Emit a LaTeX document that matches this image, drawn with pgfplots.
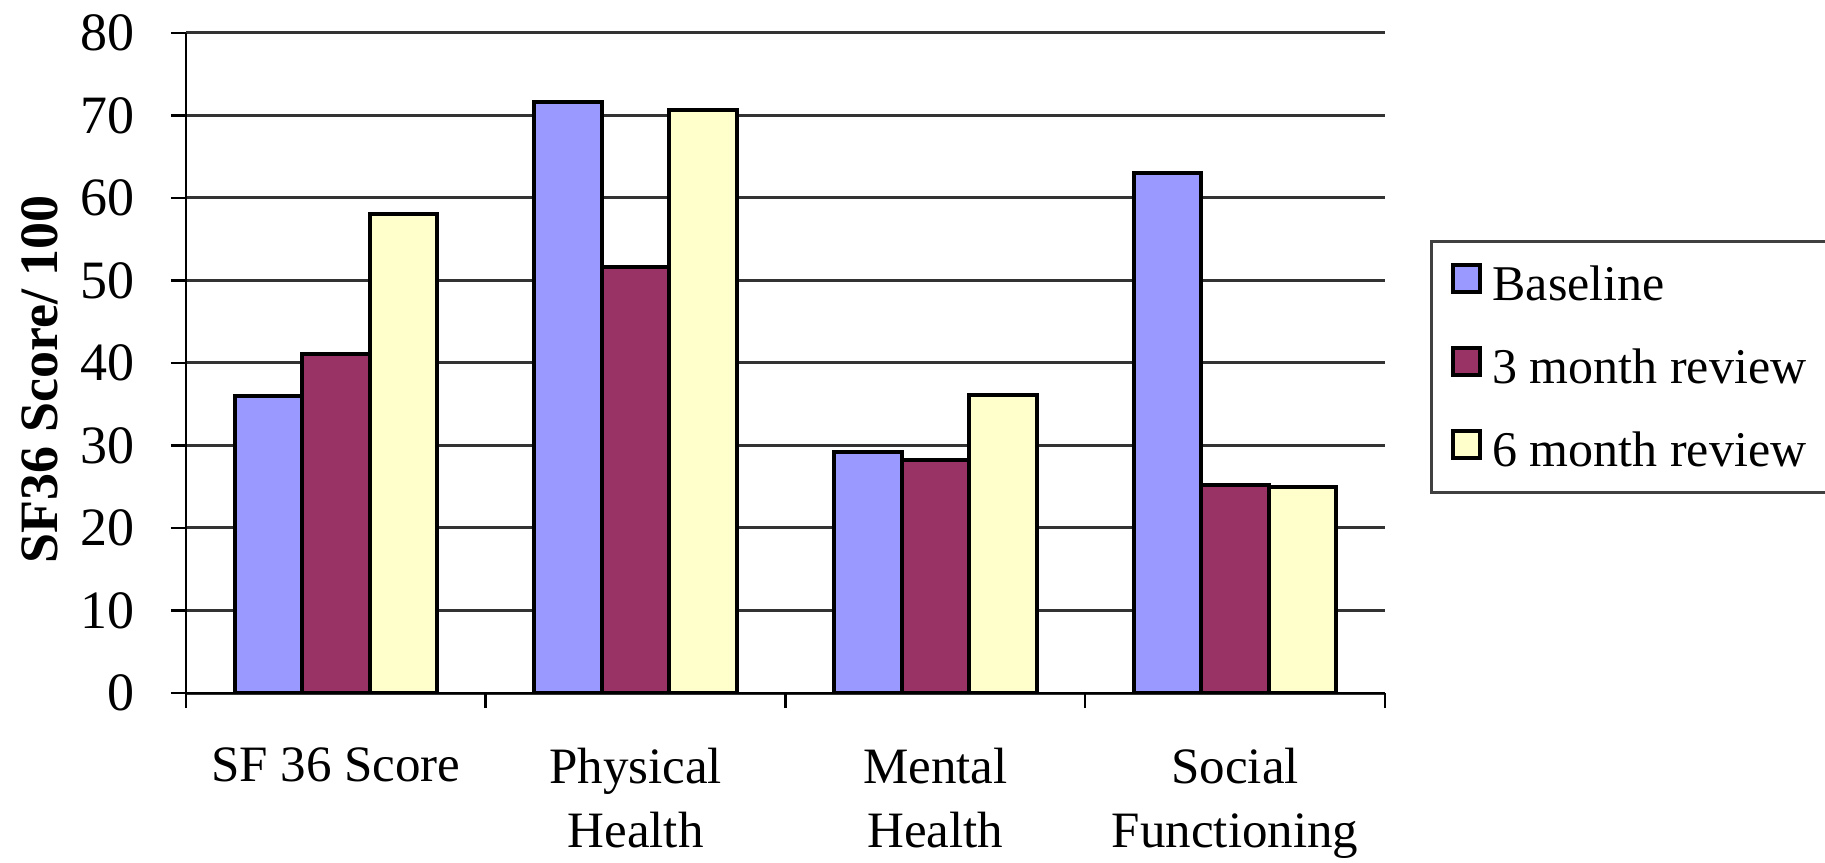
\documentclass[border=0pt]{standalone}
\usepackage{fontspec}
\setmainfont{Liberation Serif}
\usepackage{pgfplots}
\pgfplotsset{compat=1.18}

\definecolor{baseline}{HTML}{9999FF}
\definecolor{month3}{HTML}{993366}
\definecolor{month6}{HTML}{FFFFCC}

\begin{document}
\begin{tikzpicture}
\path[use as bounding box] (0,0) rectangle (1825pt,862pt);
\begin{axis}[
  at={(186pt,169pt)}, anchor=south west,
  width=1199pt, height=660pt, scale only axis,
  ybar=0pt, bar width=0.225,
  xmin=-0.5, xmax=3.5, ymin=0, ymax=80,
  axis lines=left,
  x axis line style={-, line width=2.5pt},
  y axis line style={-, line width=2.5pt},
  tick align=outside,
  major tick length=15pt,
  tick style={line width=2.5pt, black},
  ytick={0,10,...,80},
  xtick={-0.5,0.5,1.5,2.5,3.5},
  xticklabels={},
  extra x ticks={0,1,2,3},
  extra x tick labels={SF 36 Score, Physical\\Health, Mental\\Health, Social\\Functioning},
  extra x tick style={major tick length=0pt},
  xticklabel style={align=center, font=\fontsize{51}{64}\selectfont, inner sep=0pt, yshift=-55pt},
  yticklabel style={font=\fontsize{54}{60}\selectfont, inner sep=0pt, xshift=-36pt},
  /pgf/number format/assume math mode=true,
  ymajorgrids,
  major grid style={line width=3pt, black!80},
  ylabel={SF36 Score/ 100},
  every axis y label/.style={at={(axis description cs:-0.122,0.475)}, rotate=90, anchor=center,
    font=\bfseries\fontsize{54}{60}\selectfont},
  legend style={at={(1.0375,0.687)}, anchor=north west, draw=black!75, line width=3pt,
    font=\fontsize{50}{60}\selectfont, inner xsep=20pt, inner ysep=22pt, row sep=42pt,
    cells={anchor=west}, /tikz/every odd column/.append style={column sep=8pt}},
  legend image code/.code={\draw[#1,line width=4pt] (0pt,-8pt) rectangle (27pt,19pt);},
  every axis plot/.append style={draw=black, line width=4pt},
]
\addplot[fill=baseline, bar shift=-0.225] coordinates {(0,36) (1,71.6) (2,29.2) (3,63)};
\addplot[fill=month3, bar shift=0] coordinates {(0,41.1) (1,51.6) (2,28.3) (3,25.2)};
\addplot[fill=month6, bar shift=0.225] coordinates {(0,58) (1,70.7) (2,36.1) (3,25)};
\legend{Baseline, 3 month review, 6 month review}
\end{axis}
\end{tikzpicture}
\end{document}
